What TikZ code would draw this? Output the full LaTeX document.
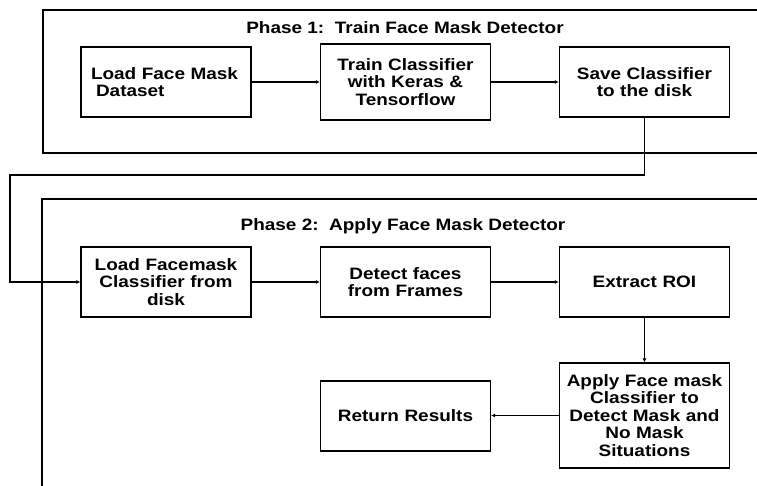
\documentclass[tikz,border=0pt]{standalone}
\usepackage{fontspec}
\setmainfont{Liberation Sans}[FakeStretch=1.15]
\usetikzlibrary{positioning,arrows.meta}

\begin{document}
\begin{tikzpicture}[x=1pt, y=-1pt,
    stage/.style={draw, line width=1.3pt, minimum height=70pt, text width=161pt, inner xsep=4.5pt, align=center, font=\fontsize{16.5}{17.5}\selectfont\bfseries},
    title/.style={font=\fontsize{16.5}{17.5}\selectfont\bfseries},
    frame/.style={line width=1.6pt},
    flow/.style={line width=1.1pt, -{Latex[length=4pt,width=4pt]}}]
    \useasboundingbox (0,0) rectangle (757,486);
    % phase frames
    \draw[frame] (757,10) -- (43,10) -- (43,153) -- (757,153);
    \draw[frame] (757,199) -- (42,199) -- (42,486);
    \node[title] (phaseone) at (405,28) {Phase 1:\ \ Train Face Mask Detector};
    \node[title] (phasetwo) at (403,226) {Phase 2:\ \ Apply Face Mask Detector};
    % phase 1
    \node[stage, align=left, text width=150pt, inner xsep=10pt] (loaddata) at (166,82) {Load Face Mask\\\hspace{5pt}Dataset};
    \node[stage, minimum height=76pt] (train) at (405.5,82) {Train Classifier\\with Keras \&\\Tensorflow};
    \node[stage] (save) at (644.5,82) {Save Classifier\\to the disk};
    % phase 2
    \node[stage] (loadclf) at (166,282) {Load Facemask\\Classifier from\\disk};
    \node[stage] (detect) at (405.5,282) {Detect faces\\from Frames};
    \node[stage] (roi) at (644.5,282) {Extract ROI};
    \node[stage, minimum height=105pt] (apply) at (644.5,415.5) {Apply Face mask\\Classifier to\\Detect Mask and\\No Mask\\Situations};
    \node[stage] (results) at (405.5,416) {Return Results};
    % connectors
    \coordinate (back) at (10,175);
    \draw[flow] (loaddata) -- (train);
    \draw[flow] (train) -- (save);
    \draw[flow] (save.south) |- (back) |- (loadclf.west);
    \draw[flow] (loadclf) -- (detect);
    \draw[flow] (detect) -- (roi);
    \draw[flow] (roi) -- (apply);
    \draw[flow] (apply.west) -- (results.east |- apply.west);
\end{tikzpicture}
\end{document}
